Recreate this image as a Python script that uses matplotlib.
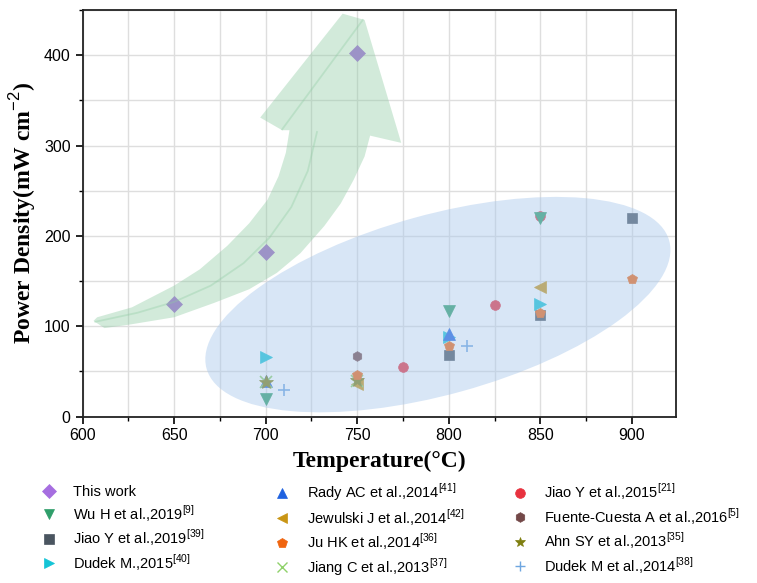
import matplotlib
matplotlib.use("Agg")
import matplotlib.pyplot as plt
from matplotlib.patches import Polygon, Ellipse
from matplotlib.lines import Line2D
from matplotlib.transforms import Affine2D
from matplotlib.ticker import MultipleLocator

# data
labels = ["This work",
          "Wu H et al.,2019$^{[9]}$",
          "Jiao Y et al.,2019$^{[39]}$",
          "Dudek M.,2015$^{[40]}$",
          "Rady AC et al.,2014$^{[41]}$",
          "Jewulski J et al.,2014$^{[42]}$",
          "Ju HK et al.,2014$^{[36]}$",
          "Jiang C et al.,2013$^{[37]}$",
          "Jiao Y et al.,2015$^{[21]}$",
          "Fuente-Cuesta A et al.,2016$^{[5]}$",
          "Ahn SY et al.,2013$^{[35]}$",
          "Dudek M et al.,2014$^{[38]}$"]
temps = [[650, 700, 750],
         [700, 800, 850],
         [800, 850, 900],
         [700, 800, 850],
         [700, 800],
         [750, 850],
         [750, 800, 850, 900],
         [700, 750],
         [775, 825, 850],
         [750],
         [700, 750],
         [710, 810]]
power = [[125, 182, 402],
         [20, 117, 220],
         [68, 113, 220],
         [66, 88, 125],
         [39, 91],
         [36, 143],
         [46, 78, 115, 152],
         [38, 40],
         [55, 124, 222],
         [67],
         [38, 41],
         [30, 78]]
markers = ["D", "v", "s", ">", "^", "<", "p", "x", "o", "h", "*", "+"]
colors = ["#a66ee0", "#2f9e6a", "#4a5560", "#14c4d6", "#1f62e0", "#c99514",
          "#f0650f", "#8fd16a", "#e8323f", "#734848", "#7f7f10", "#6fa6e0"]
layer = [3, 3.2, 3, 3, 3, 3, 3.1, 3, 2.9, 3, 3.05, 3]

# decoration shapes (green arrow outline, blue ellipse)
arrow_x = [606, 612, 626, 650, 672, 691, 706, 719, 732, 741, 748, 754, 757,
           774, 754, 742, 697, 709, 713, 711, 707, 701, 691, 679, 664, 650, 627, 608]
arrow_y = [106, 98, 102, 110, 126, 141, 159, 181, 211, 236, 262, 288, 311,
           303, 439, 446, 331, 317, 317, 292, 266, 240, 214, 189, 163, 145, 121, 110]
line1_x = [607, 630, 650, 670, 688, 702, 714, 723, 728]
line1_y = [105, 115, 127, 145, 170, 198, 232, 272, 315]
line2_x = [709, 753]
line2_y = [318, 439]

plt.rcParams["font.family"] = ["Liberation Sans", "DejaVu Sans"]
plt.rcParams["mathtext.fontset"] = "custom"
plt.rcParams["mathtext.rm"] = "Liberation Sans"

fig = plt.figure(figsize=(7.57, 5.83), dpi=100)
ax = fig.add_axes([0.109, 0.2853, 0.784, 0.6975])

for T, P, m, c, z in zip(temps, power, markers, colors, layer):
    ms = 7 if m in ("o", "s", "h", "p") else 8
    if m == "*":
        ms = 10
    ax.plot(T, P, linestyle="none", marker=m, color=c, markersize=ms,
            markeredgewidth=1.2 if m in ("x", "+") else 0.5, zorder=z)

# green arrow
arrow = Polygon(list(zip(arrow_x, arrow_y)), closed=True, facecolor="#8fcca3",
                edgecolor="none", alpha=0.4, zorder=4)
ax.add_patch(arrow)
ax.plot(line1_x, line1_y, color="#8fcca3", lw=1.3, alpha=0.35, zorder=4)
ax.plot(line2_x, line2_y, color="#8fcca3", lw=1.3, alpha=0.35, zorder=4)

# blue ellipse (drawn in y-units, then squeezed in x to match axis scaling)
ell = Ellipse((0, 0), 530, 199, angle=15.5, facecolor="#a9c8ec",
              edgecolor="none", alpha=0.45, zorder=4)
ell.set_transform(Affine2D().scale(0.4945, 1).translate(794, 124) + ax.transData)
ax.add_patch(ell)

ax.set_xlim(600, 924)
ax.set_ylim(0, 450)
ax.xaxis.set_major_locator(MultipleLocator(50))
ax.xaxis.set_minor_locator(MultipleLocator(25))
ax.yaxis.set_major_locator(MultipleLocator(100))
ax.yaxis.set_minor_locator(MultipleLocator(50))
ax.grid(True, which="both", color="#dedede", lw=1.0, zorder=0)
ax.set_axisbelow(True)
ax.tick_params(which="major", direction="out", length=5, width=1.2, labelsize=11.5)
ax.tick_params(which="minor", direction="out", length=3, width=1.0)
for s in ax.spines.values():
    s.set_linewidth(1.3)
    s.set_color("#222222")

ax.set_xlabel("Temperature(°C)", family="Liberation Serif", fontweight="bold",
              fontsize=17, labelpad=5)
ax.set_ylabel("Power Density(mW cm$^{-2}$)", family="Liberation Serif",
              fontweight="bold", fontsize=17, labelpad=4)

# legend: three single-column legends below the axes
handles = [Line2D([], [], linestyle="none", marker=m, color=c, markersize=7,
                  markeredgewidth=1.0 if m in ("x", "+") else 0.5)
           for m, c in zip(markers, colors)]
col_x = [0.045, 0.353, 0.667]
col_y = [0.180, 0.186, 0.186]
for i, (x0, y0) in enumerate(zip(col_x, col_y)):
    fig.legend(handles[4 * i:4 * i + 4], labels[4 * i:4 * i + 4], loc="upper left",
               bbox_to_anchor=(x0, y0), frameon=False, fontsize=10.5,
               handlelength=1.0, handletextpad=1.2, labelspacing=0.26, borderpad=0)

fig.savefig("out.png", dpi=100)
